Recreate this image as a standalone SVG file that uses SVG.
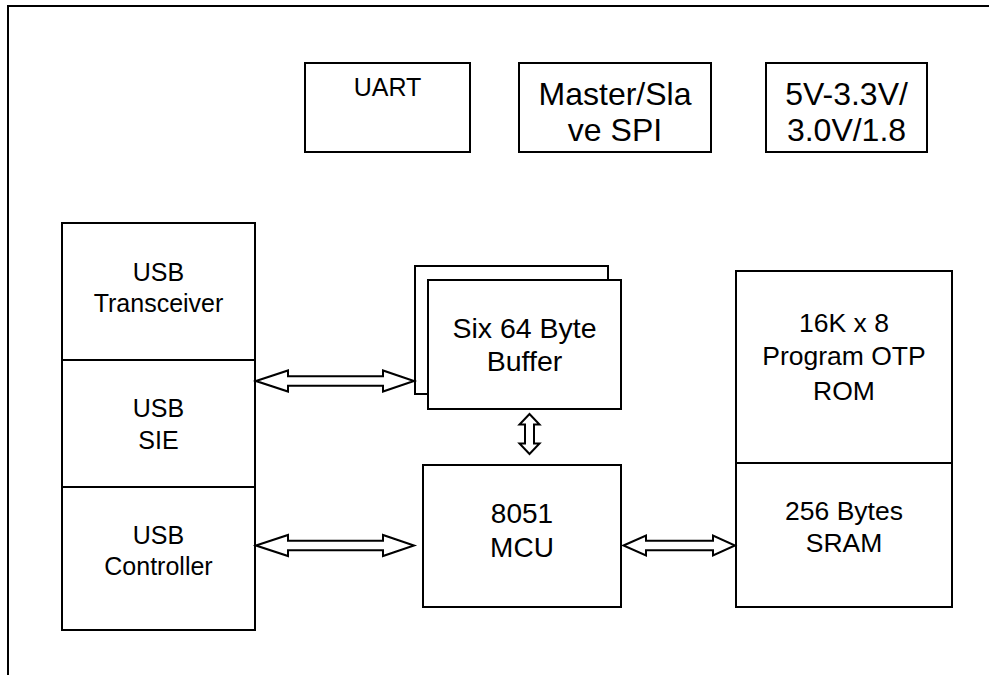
<svg xmlns="http://www.w3.org/2000/svg" width="989" height="675" viewBox="0 0 989 675">
<style>
.box{fill:#fff;stroke:#000;stroke-width:2}
.arr{fill:#fff;stroke:#000;stroke-width:2;stroke-linejoin:miter}
.frame{fill:none;stroke:#000;stroke-width:2}
text{font-family:"Liberation Sans",Arial,sans-serif;fill:#000;text-anchor:middle}
</style>
<rect width="989" height="675" fill="#fff"/>
<path class="frame" d="M8,675 V6 H989"/>
<g id="uart"><rect class="box" x="305" y="63" width="165" height="89"/><text x="387.5" y="96" font-size="25">UART</text></g>
<g id="spi"><rect class="box" x="519" y="63" width="192" height="89"/><text x="615" y="105" font-size="32">Master/Sla</text><text x="615" y="140.5" font-size="32">ve SPI</text></g>
<g id="ldo"><rect class="box" x="766" y="63" width="161" height="89"/><text x="846.5" y="105" font-size="32">5V-3.3V/</text><text x="846.5" y="140.5" font-size="32">3.0V/1.8</text></g>
<g id="usb-transceiver"><rect class="box" x="62" y="223" width="193" height="137"/><text x="158.5" y="281" font-size="25">USB</text><text x="158.5" y="312" font-size="25">Transceiver</text></g>
<g id="usb-sie"><rect class="box" x="62" y="360" width="193" height="127"/><text x="158.5" y="417" font-size="25">USB</text><text x="158.5" y="448.5" font-size="25">SIE</text></g>
<g id="usb-controller"><rect class="box" x="62" y="487" width="193" height="143"/><text x="158.5" y="543.5" font-size="25">USB</text><text x="158.5" y="575" font-size="25">Controller</text></g>
<g id="buffer"><rect class="box" x="415" y="266" width="193" height="128"/><rect class="box" x="428" y="280" width="193" height="129"/><text x="524.5" y="337.5" font-size="28.5">Six 64 Byte</text><text x="524.5" y="370.5" font-size="28.5">Buffer</text></g>
<g id="mcu"><rect class="box" x="423" y="465" width="198" height="142"/><text x="522" y="522.5" font-size="28">8051</text><text x="522" y="556.5" font-size="28">MCU</text></g>
<g id="rom"><rect class="box" x="736" y="271" width="216" height="192"/><text x="844" y="331.5" font-size="26.5">16K x 8</text><text x="844" y="365" font-size="26.5">Program OTP</text><text x="844" y="400" font-size="26.5">ROM</text></g>
<g id="sram"><rect class="box" x="736" y="463" width="216" height="144"/><text x="844" y="519.5" font-size="26.5">256 Bytes</text><text x="844" y="551.5" font-size="26.5">SRAM</text></g>
<g id="connectors">
<polygon class="arr" points="256,381 288,370.5 288,376.3 383,376.3 383,370.5 414,381 383,391.5 383,385.7 288,385.7 288,391.5"/>
<polygon class="arr" points="256,545.5 288,535 288,540.8 383,540.8 383,535 414,545.5 383,556 383,550.2 288,550.2 288,556"/>
<polygon class="arr" points="623.5,545.5 646,535.5 646,540.7 713,540.7 713,535.5 735,545.5 713,555.5 713,550.3 646,550.3 646,555.5"/>
<polygon class="arr" points="529.5,414 539.5,424.5 534,424.5 534,443.5 539.5,443.5 529.5,454 519.5,443.5 525,443.5 525,424.5 519.5,424.5"/>
</g>
</svg>
